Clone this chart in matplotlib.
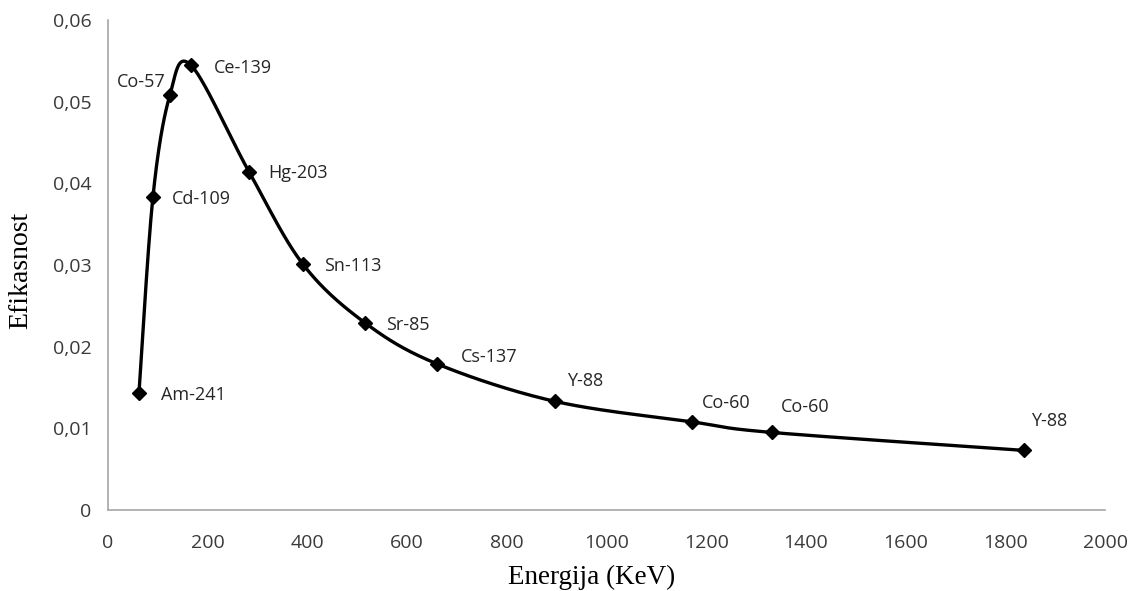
import numpy as np
import matplotlib.pyplot as plt
from matplotlib.ticker import FuncFormatter

# energija (keV) i efikasnost, ocitano sa grafika
energy = [62, 90, 124, 166, 283, 391, 516, 660, 897, 1171, 1332, 1838]
eff = [0.0143, 0.0383, 0.0508, 0.0545, 0.0414, 0.0301, 0.0229, 0.0179,
       0.0133, 0.0108, 0.0095, 0.0073]
isotopes = ['Am-241', 'Cd-109', 'Co-57', 'Ce-139', 'Hg-203', 'Sn-113',
            'Sr-85', 'Cs-137', 'Y-88', 'Co-60', 'Co-60', 'Y-88']
# pomak natpisa u pikselima (dx, dy)
offsets = [(22, -2), (19, -2), (-4, 13), (23, -3), (19, -1), (21, -2),
           (21, -2), (24, 7), (12, 20), (10, 19), (9, 25), (7, 29)]


def smooth(x, y, n=40):
    # Bezier glacanje kao u Excelu (Catmull-Rom)
    x = np.asarray(x, float)
    y = np.asarray(y, float)
    px = np.concatenate([[x[0]], x, [x[-1]]])
    py = np.concatenate([[y[0]], y, [y[-1]]])
    xs, ys = [], []
    t = np.linspace(0, 1, n)
    for i in range(1, len(px) - 2):
        p0 = np.array([px[i], py[i]])
        p3 = np.array([px[i + 1], py[i + 1]])
        p1 = p0 + (np.array([px[i + 1], py[i + 1]]) - np.array([px[i - 1], py[i - 1]])) / 6
        p2 = p3 - (np.array([px[i + 2], py[i + 2]]) - np.array([px[i], py[i]])) / 6
        b = ((1 - t) ** 3)[:, None] * p0 + (3 * (1 - t) ** 2 * t)[:, None] * p1 \
            + (3 * (1 - t) * t ** 2)[:, None] * p2 + (t ** 3)[:, None] * p3
        xs.extend(b[:, 0])
        ys.extend(b[:, 1])
    return xs, ys


fig = plt.figure(figsize=(11.3, 5.91), dpi=100)
ax = fig.add_axes([0.0956, 0.137, 0.8824, 0.829])

sx, sy = smooth(energy, eff)
ax.plot(sx, sy, color='black', lw=2.4, zorder=2)
ax.plot(energy, eff, 'D', color='black', markersize=7.5, zorder=3)

for e, v, name, (dx, dy) in zip(energy, eff, isotopes, offsets):
    ha = 'right' if dx < 0 else 'left'
    ax.annotate(name, (e, v), xytext=(dx * 0.72, dy * 0.72), textcoords='offset points',
                ha=ha, va='center', fontsize=13, family='Open Sans', color='#262626')

ax.set_xlim(0, 2000)
ax.set_ylim(0, 0.06)
ax.set_xticks(range(0, 2001, 200))
ax.set_yticks(np.arange(0, 0.061, 0.01))
ax.yaxis.set_major_formatter(FuncFormatter(lambda v, p: '0' if v == 0 else ('%.2f' % v).replace('.', ',')))
ax.tick_params(length=0, labelsize=14, labelcolor='#3a3a3a')
ax.tick_params(axis='y', pad=12)
ax.tick_params(axis='x', pad=17)
for lab in ax.get_xticklabels() + ax.get_yticklabels():
    lab.set_family('Open Sans')

for s in ['top', 'right']:
    ax.spines[s].set_visible(False)
for s in ['left', 'bottom']:
    ax.spines[s].set_color('#a6a6a6')
    ax.spines[s].set_linewidth(1.2)

ax.set_xlabel('Energija (KeV)', family='Liberation Serif', fontsize=19.5)
ax.set_ylabel('Efikasnost', family='Liberation Serif', fontsize=20)
ax.xaxis.set_label_coords((592 - 108) / 997, -(577 - 510) / 490)
ax.yaxis.set_label_coords(-(108 - 21) / 997, (510 - 270) / 490)
ax.xaxis.label.set_va('center')
ax.yaxis.label.set_va('center')

fig.savefig('out.png', dpi=100)
